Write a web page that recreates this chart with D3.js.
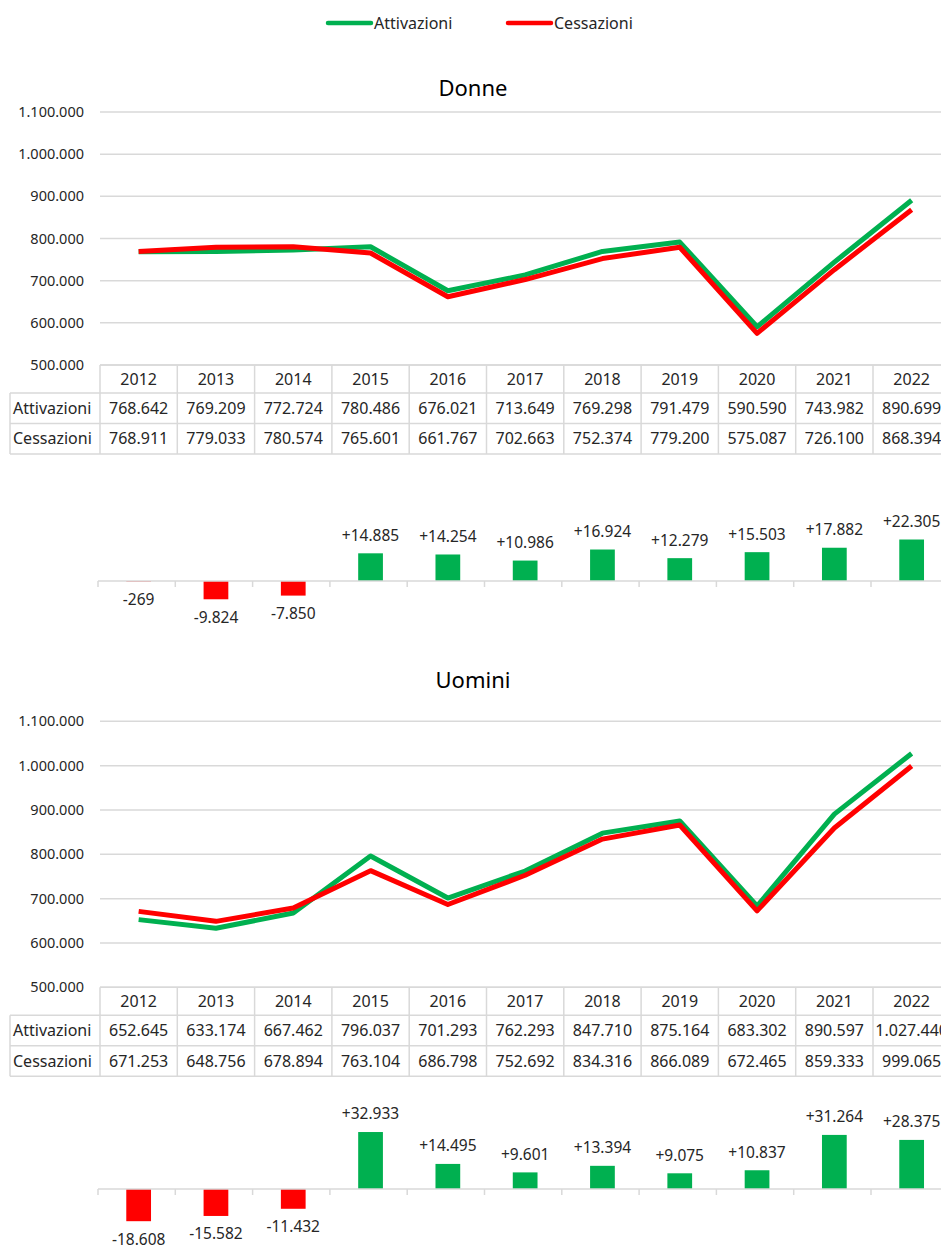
<!DOCTYPE html>
<html>
<head>
<meta charset="utf-8">
<script src="https://cdn.jsdelivr.net/npm/d3@7"></script>
<style>
  body { margin: 0; background: #fff; }
  svg { display: block; font-family: "Noto Sans", sans-serif; }
</style>
</head>
<body>
<svg id="chart" width="941" height="1250"></svg>
<script>
// data
var years = [2012, 2013, 2014, 2015, 2016, 2017, 2018, 2019, 2020, 2021, 2022];
var seriesNames = ["Attivazioni", "Cessazioni"];
var yTicks = [500000, 600000, 700000, 800000, 900000, 1000000, 1100000];

var donneAttivazioni = [768642, 769209, 772724, 780486, 676021, 713649, 769298, 791479, 590590, 743982, 890699];
var donneCessazioni  = [768911, 779033, 780574, 765601, 661767, 702663, 752374, 779200, 575087, 726100, 868394];
var donneSaldo       = [-269, -9824, -7850, 14885, 14254, 10986, 16924, 12279, 15503, 17882, 22305];

var uominiAttivazioni = [652645, 633174, 667462, 796037, 701293, 762293, 847710, 875164, 683302, 890597, 1027440];
var uominiCessazioni  = [671253, 648756, 678894, 763104, 686798, 752692, 834316, 866089, 672465, 859333, 999065];
var uominiSaldo       = [-18608, -15582, -11432, 32933, 14495, 9601, 13394, 9075, 10837, 31264, 28375];

var GREEN = "#00B050", RED = "#FF0000", GRID = "#d9d9d9", TEXT = "#262626";

var it = d3.formatLocale({decimal: ",", thousands: ".", grouping: [3], currency: ["€", ""], minus: "-"});
var fmt = it.format(",");
var fmtSigned = it.format("+,");

var svg = d3.select("#chart");

var left = 100, step = 77.3;
var x = d3.scaleBand().domain(years).range([left, left + step * years.length]);
var xBar = d3.scaleBand().domain(years).range([left, left + step * years.length])
    .paddingInner(0.68).paddingOuter(0.34);

// legend
var legend = svg.append("g");
[[328, 0], [508, 1]].forEach(function(l){
    var name = seriesNames[l[1]];
    legend.append("line")
        .attr("x1", l[0]).attr("x2", l[0] + 43)
        .attr("y1", 23).attr("y2", 23)
        .attr("stroke", l[1] ? RED : GREEN)
        .attr("stroke-width", 4.5)
        .attr("stroke-linecap", "round");
    legend.append("text")
        .attr("x", l[0] + 46).attr("y", 29)
        .attr("font-size", 16)
        .attr("fill", TEXT)
        .text(name);
});

function drawPanel(opt) {
    var g = svg.append("g");
    var y = d3.scaleLinear().domain([500000, 1100000]).range([opt.y500, opt.y1100]);

    g.append("text")
        .attr("x", 473).attr("y", opt.titleY)
        .attr("dy", "0.35em")
        .attr("text-anchor", "middle")
        .attr("font-size", 22)
        .attr("fill", "#000")
        .text(opt.title);

    // gridlines + y labels
    g.selectAll(".grid").data(yTicks).enter()
        .append("line")
        .attr("x1", left).attr("x2", 941)
        .attr("y1", function(d){ return y(d); })
        .attr("y2", function(d){ return y(d); })
        .attr("stroke", GRID)
        .attr("stroke-width", 1.5);
    g.selectAll(".ylab").data(yTicks).enter()
        .append("text")
        .attr("x", 84)
        .attr("y", function(d){ return y(d); })
        .attr("dy", "0.35em")
        .attr("text-anchor", "end")
        .attr("font-size", 14.5)
        .attr("fill", TEXT)
        .text(function(d){ return fmt(d); });

    // lines: green below, red on top
    var line = d3.line()
        .x(function(d, i){ return x(years[i]) + x.bandwidth() / 2; })
        .y(function(d){ return y(d); });
    [[opt.att, GREEN], [opt.cess, RED]].forEach(function(s){
        g.append("path")
            .datum(s[0])
            .attr("d", line)
            .attr("fill", "none")
            .attr("stroke", s[1])
            .attr("stroke-width", 5)
            .attr("stroke-linejoin", "round");
    });

    // data table
    var t0 = opt.y500, rowH = 30.5, headH = 28;
    var rows = [t0, t0 + headH, t0 + headH + rowH, t0 + headH + 2 * rowH];
    var tbl = g.append("g")
        .attr("stroke", GRID)
        .attr("stroke-width", 1.5);
    tbl.append("line").attr("x1", left).attr("x2", 941).attr("y1", rows[0]).attr("y2", rows[0]);
    [1, 2, 3].forEach(function(r){
        tbl.append("line").attr("x1", 10).attr("x2", 941).attr("y1", rows[r]).attr("y2", rows[r]);
    });
    tbl.append("line").attr("x1", 10).attr("x2", 10).attr("y1", rows[1]).attr("y2", rows[3]);
    years.forEach(function(yr){
        tbl.append("line").attr("x1", x(yr)).attr("x2", x(yr)).attr("y1", rows[0]).attr("y2", rows[3]);
    });

    g.selectAll(".yr").data(years).enter()
        .append("text")
        .attr("x", function(d){ return x(d) + x.bandwidth() / 2; })
        .attr("y", (rows[0] + rows[1]) / 2)
        .attr("dy", "0.35em")
        .attr("text-anchor", "middle")
        .attr("font-size", 16)
        .attr("fill", TEXT)
        .text(function(d){ return d; });

    [opt.att, opt.cess].forEach(function(vals, r){
        var cy = (rows[r + 1] + rows[r + 2]) / 2;
        g.append("text")
            .attr("x", 13).attr("y", cy)
            .attr("dy", "0.35em")
            .attr("font-size", 16)
            .attr("fill", TEXT)
            .text(seriesNames[r]);
        g.selectAll(".v" + r).data(vals).enter()
            .append("text")
            .attr("x", function(d, i){ return x(years[i]) + x.bandwidth() / 2; })
            .attr("y", cy)
            .attr("dy", "0.35em")
            .attr("text-anchor", "middle")
            .attr("font-size", 16)
            .attr("fill", TEXT)
            .text(function(d){ return fmt(d); });
    });

    // balance bars
    var yb = d3.scaleLinear().domain([0, 10000]).range([opt.barAxis, opt.barAxis - opt.pxPer10k]);
    g.selectAll(".bar").data(opt.saldo).enter()
        .append("rect")
        .attr("x", function(d, i){ return xBar(years[i]); })
        .attr("width", xBar.bandwidth())
        .attr("y", function(d){ return Math.min(yb(d), yb(0)); })
        .attr("height", function(d){ return Math.abs(yb(d) - yb(0)); })
        .attr("fill", function(d){ return d < 0 ? RED : GREEN; });

    g.append("line")
        .attr("x1", left - 2).attr("x2", 941)
        .attr("y1", opt.barAxis).attr("y2", opt.barAxis)
        .attr("stroke", GRID).attr("stroke-width", 1.5);
    years.forEach(function(yr){
        g.append("line")
            .attr("x1", x(yr) - 2).attr("x2", x(yr) - 2)
            .attr("y1", opt.barAxis).attr("y2", opt.barAxis + 6)
            .attr("stroke", GRID).attr("stroke-width", 1.5);
    });

    g.selectAll(".blab").data(opt.saldo).enter()
        .append("text")
        .attr("x", function(d, i){ return xBar(years[i]) + xBar.bandwidth() / 2; })
        .attr("y", function(d){ return d < 0 ? yb(d) + 18 : yb(d) - 18; })
        .attr("dy", "0.35em")
        .attr("text-anchor", "middle")
        .attr("font-size", 15.5)
        .attr("fill", TEXT)
        .text(function(d){ return d < 0 ? fmt(d) : fmtSigned(d); });
}

drawPanel({
    title: "Donne", titleY: 88,
    y1100: 112, y500: 365,
    att: donneAttivazioni, cess: donneCessazioni, saldo: donneSaldo,
    barAxis: 581, pxPer10k: 18.6
});

drawPanel({
    title: "Uomini", titleY: 680,
    y1100: 721.3, y500: 987.3,
    att: uominiAttivazioni, cess: uominiCessazioni, saldo: uominiSaldo,
    barAxis: 1189, pxPer10k: 17.3
});
</script>
</body>
</html>
